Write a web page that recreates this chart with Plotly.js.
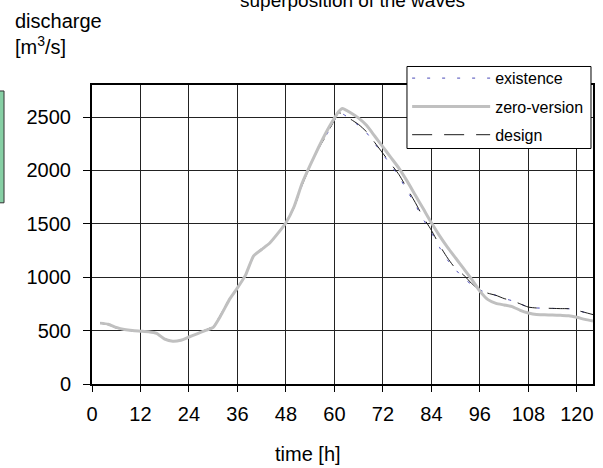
<!DOCTYPE html>
<html>
<head>
<meta charset="utf-8">
<script src="https://cdn.plot.ly/plotly-3.0.1.min.js"></script>
<style>html,body{margin:0;padding:0;background:#fff;}#chart{width:603px;height:468px;}</style>
</head>
<body>
<div id="chart"></div>
<script>
// time axis (hours)
var timeH = [2,4,6,8,10,12,14,16,18,20,22,24,26,28,30,32,34,36,38,40,42,44,46,48,50,52,54,56,58,60,61,62,64,66,68,70,72,74,76,78,80,82,84,86,88,90,92,94,96,98,100,102,104,106,108,110,112,114,116,118,120,122,124];

var zeroVersion = [570,560,530,510,500,495,490,475,420,400,410,440,470,500,530,650,790,900,1020,1200,1260,1320,1410,1510,1660,1880,2050,2210,2360,2490,2550,2580,2540,2490,2420,2320,2220,2120,2020,1900,1770,1640,1510,1390,1280,1180,1080,980,870,790,755,740,725,690,665,650,648,645,643,640,625,605,590];

var design = [570,555,525,505,498,495,490,478,425,402,412,442,472,505,540,660,800,905,1010,1195,1270,1325,1410,1505,1650,1860,2040,2200,2330,2470,2540,2530,2480,2430,2360,2260,2160,2060,1960,1830,1700,1560,1440,1300,1180,1080,1020,940,880,850,830,800,780,750,720,712,710,708,706,705,690,670,650];

var existence = [570,555,525,505,498,495,490,478,425,402,412,442,472,505,540,660,800,905,1010,1195,1270,1325,1410,1505,1650,1860,2040,2200,2330,2470,2540,2530,2480,2420,2350,2250,2150,2050,1940,1810,1680,1540,1420,1280,1160,1070,990,930,880,850,830,800,780,750,720,712,710,708,706,705,690,670,650];

var xTicks = [0,12,24,36,48,60,72,84,96,108,120];
var yTicks = [0,500,1000,1500,2000,2500];

var FONT = 'Liberation Sans, Arial, sans-serif';

var traces = [
  {x: timeH, y: existence, name: 'existence', mode: 'lines', legendgroup: 'a', legendrank: 1,
   line: {color: '#4a4ab8', width: 1, dash: '3px,12px', shape: 'spline', smoothing: 0.5}},
  {x: timeH, y: design, name: 'design', mode: 'lines', legendgroup: 'c', legendrank: 3,
   line: {color: '#1a1a1a', width: 1, dash: '20px,12px', shape: 'spline', smoothing: 0.5}},
  {x: timeH, y: zeroVersion, name: 'zero-version', mode: 'lines', legendgroup: 'b', legendrank: 2,
   line: {color: '#c0c0c0', width: 3, shape: 'spline', smoothing: 0.5}}
];

var layout = {
  width: 603, height: 468,
  margin: {l: 92, r: 10, t: 85, b: 84},
  paper_bgcolor: '#fff', plot_bgcolor: '#fff',
  font: {family: FONT, color: '#000', size: 16},
  showlegend: true,
  legend: {x: 0.629, y: 1.0796, xanchor: 'left', yanchor: 'top',
    bgcolor: 'rgba(0,0,0,0)', borderwidth: 0,
    font: {family: FONT, size: 16, color: '#000'},
    traceorder: 'grouped', tracegroupgap: 4.5, itemwidth: 78},
  xaxis: {range: [0, 124], tickvals: xTicks, ticktext: xTicks.map(String),
    showgrid: true, gridcolor: '#222', gridwidth: 1,
    showline: true, linecolor: '#000', linewidth: 2, mirror: true,
    ticks: 'outside', ticklen: 6, tickcolor: '#000', tickwidth: 1,
    tickfont: {family: FONT, size: 20, color: '#000'},
    ticklabelstandoff: 5, zeroline: false, fixedrange: true},
  yaxis: {range: [0, 2800], tickvals: yTicks, ticktext: yTicks.map(String),
    showgrid: true, gridcolor: '#222', gridwidth: 1,
    showline: true, linecolor: '#000', linewidth: 2, mirror: true,
    ticks: 'outside', ticklen: 7, tickcolor: '#000', tickwidth: 1,
    tickfont: {family: FONT, size: 20, color: '#000'},
    ticklabelstandoff: 8, zeroline: false, fixedrange: true},
  annotations: [
    {text: 'superposition of the waves', xref: 'paper', yref: 'paper',
     x: 0.52, y: 1.281, xanchor: 'center', yanchor: 'middle', showarrow: false,
     font: {family: FONT, size: 19, color: '#000'}},
    {text: 'discharge<br>[m<sup>3</sup>/s]', xref: 'paper', yref: 'paper',
     x: -0.158, y: 1.258, xanchor: 'left', yanchor: 'top', align: 'left', showarrow: false,
     font: {family: FONT, size: 20, color: '#000'}},
    {text: 'time [h]', xref: 'paper', yref: 'paper',
     x: 0.431, y: -0.233, xanchor: 'center', yanchor: 'middle', showarrow: false,
     font: {family: FONT, size: 20, color: '#000'}}
  ],
  shapes: [
    {type: 'rect', xref: 'paper', yref: 'paper', x0: -0.19, x1: -0.1756, y0: 0.606, y1: 0.98,
     fillcolor: '#86cfa4', line: {color: '#333', width: 1}},
    {type: 'rect', xref: 'paper', yref: 'paper', layer: 'above',
     x0: 0.6287, x1: 0.996, y0: 0.7876, y1: 1.0619,
     fillcolor: '#fff', line: {color: '#000', width: 1}}
  ]
};

Plotly.newPlot('chart', traces, layout, {displayModeBar: false, staticPlot: true});
</script>
</body>
</html>
